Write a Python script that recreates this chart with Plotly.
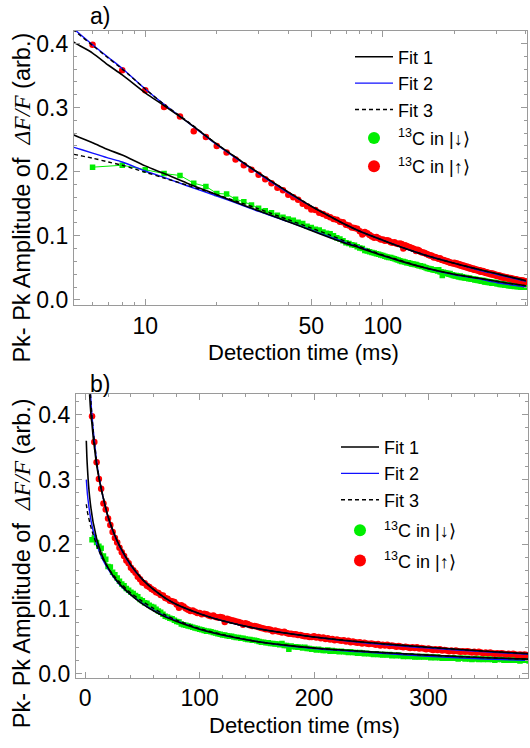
import plotly.graph_objects as go

# ---------------- data ----------------
time_ms = [
    6, 8, 10, 12, 14, 16, 18, 20, 22, 24, 26, 28, 30, 32, 34, 36, 38, 40, 42, 44,
    46, 48, 50, 52, 54, 56, 58, 60, 62, 64, 66, 68, 70, 72, 74, 76, 78, 80, 82, 84,
    86, 88, 90, 92, 94, 96, 98, 100, 102, 104, 106, 108, 110, 112, 114, 116, 118, 120, 122, 124,
    126, 128, 130, 132, 134, 136, 138, 140, 142, 144, 146, 148, 150, 152, 154, 156, 158, 160, 162, 164,
    166, 168, 170, 172, 174, 176, 178, 180, 182, 184, 186, 188, 190, 192, 194, 196, 198, 200, 202, 204,
    206, 208, 210, 212, 214, 216, 218, 220, 222, 224, 226, 228, 230, 232, 234, 236, 238, 240, 242, 244,
    246, 248, 250, 252, 254, 256, 258, 260, 262, 264, 266, 268, 270, 272, 274, 276, 278, 280, 282, 284,
    286, 288, 290, 292, 294, 296, 298, 300, 302, 304, 306, 308, 310, 312, 314, 316, 318, 320, 322, 324,
    326, 328, 330, 332, 334, 336, 338, 340, 342, 344, 346, 348, 350, 352, 354, 356, 358, 360, 362, 364,
    366, 368, 370, 372, 374, 376, 378, 380, 382, 384, 386, 388, 390, 392, 394, 396, 398, 400,
]

up_amp = [  # 13C in |up>  (red)
    0.398, 0.358, 0.327, 0.301, 0.286, 0.263, 0.254, 0.240, 0.230, 0.219, 0.210, 0.203, 0.195, 0.188, 0.182, 0.175, 0.171, 0.164, 0.160, 0.156,
    0.150, 0.146, 0.141, 0.140, 0.136, 0.134, 0.131, 0.129, 0.126, 0.125, 0.122, 0.121, 0.117, 0.116, 0.113, 0.112, 0.111, 0.107, 0.102, 0.106,
    0.104, 0.101, 0.099, 0.097, 0.098, 0.096, 0.094, 0.094, 0.092, 0.093, 0.092, 0.090, 0.089, 0.090, 0.088, 0.087, 0.088, 0.087, 0.080, 0.085,
    0.084, 0.083, 0.082, 0.081, 0.080, 0.079, 0.076, 0.078, 0.077, 0.075, 0.074, 0.074, 0.073, 0.072, 0.071, 0.070, 0.069, 0.069, 0.068, 0.066,
    0.067, 0.066, 0.065, 0.064, 0.065, 0.063, 0.062, 0.062, 0.061, 0.061, 0.060, 0.060, 0.059, 0.058, 0.058, 0.057, 0.057, 0.058, 0.056, 0.057,
    0.055, 0.056, 0.054, 0.055, 0.053, 0.054, 0.052, 0.053, 0.052, 0.051, 0.052, 0.050, 0.051, 0.049, 0.050, 0.049, 0.048, 0.049, 0.047, 0.048,
    0.047, 0.046, 0.047, 0.046, 0.045, 0.046, 0.044, 0.045, 0.044, 0.045, 0.043, 0.044, 0.043, 0.042, 0.043, 0.042, 0.041, 0.042, 0.041, 0.040,
    0.041, 0.040, 0.041, 0.039, 0.040, 0.039, 0.038, 0.039, 0.038, 0.037, 0.038, 0.037, 0.038, 0.036, 0.037, 0.036, 0.035, 0.036, 0.035, 0.036,
    0.035, 0.034, 0.035, 0.034, 0.035, 0.034, 0.033, 0.034, 0.033, 0.034, 0.033, 0.032, 0.033, 0.032, 0.033, 0.032, 0.031, 0.032, 0.031, 0.032,
    0.031, 0.030, 0.031, 0.030, 0.031, 0.030, 0.029, 0.030, 0.029, 0.030, 0.029, 0.029, 0.030, 0.028, 0.029, 0.028, 0.029, 0.028,
]

down_amp = [  # 13C in |down>  (green)
    0.207, 0.210, 0.203, 0.197, 0.194, 0.182, 0.177, 0.166, 0.165, 0.157, 0.153, 0.148, 0.143, 0.139, 0.136, 0.132, 0.129, 0.126, 0.124, 0.121,
    0.119, 0.115, 0.113, 0.110, 0.109, 0.106, 0.104, 0.103, 0.100, 0.097, 0.095, 0.092, 0.089, 0.088, 0.086, 0.085, 0.083, 0.081, 0.080, 0.077,
    0.076, 0.075, 0.074, 0.073, 0.072, 0.071, 0.070, 0.069, 0.068, 0.067, 0.066, 0.066, 0.065, 0.064, 0.063, 0.062, 0.061, 0.060, 0.060, 0.059,
    0.058, 0.058, 0.057, 0.056, 0.056, 0.055, 0.055, 0.054, 0.053, 0.053, 0.052, 0.052, 0.051, 0.050, 0.049, 0.049, 0.048, 0.048, 0.047, 0.047,
    0.046, 0.046, 0.045, 0.047, 0.044, 0.044, 0.038, 0.043, 0.042, 0.042, 0.041, 0.041, 0.040, 0.041, 0.039, 0.039, 0.038, 0.038, 0.037, 0.038,
    0.037, 0.036, 0.036, 0.037, 0.035, 0.036, 0.035, 0.035, 0.034, 0.035, 0.034, 0.034, 0.033, 0.034, 0.033, 0.033, 0.032, 0.033, 0.032, 0.031,
    0.032, 0.031, 0.031, 0.030, 0.031, 0.030, 0.030, 0.029, 0.030, 0.029, 0.030, 0.028, 0.029, 0.028, 0.029, 0.028, 0.027, 0.028, 0.027, 0.028,
    0.027, 0.026, 0.027, 0.026, 0.027, 0.026, 0.027, 0.026, 0.025, 0.026, 0.025, 0.026, 0.025, 0.024, 0.025, 0.024, 0.025, 0.024, 0.025, 0.024,
    0.023, 0.024, 0.024, 0.023, 0.024, 0.023, 0.022, 0.023, 0.024, 0.022, 0.023, 0.022, 0.023, 0.022, 0.023, 0.022, 0.021, 0.022, 0.023, 0.022,
    0.021, 0.022, 0.021, 0.022, 0.021, 0.022, 0.021, 0.020, 0.021, 0.022, 0.021, 0.020, 0.021, 0.020, 0.021, 0.020, 0.021, 0.020,
]

fit_t = [1, 1.5, 2, 3, 4, 5, 6, 7, 8, 10, 12, 15, 20, 25, 30, 40, 50, 60, 70, 80, 100, 120, 150, 200, 250, 300, 350, 400]

up_fit1 = [0.70, 0.60, 0.54, 0.47, 0.428, 0.402, 0.385, 0.366, 0.351, 0.323, 0.303, 0.278, 0.243, 0.218, 0.198, 0.168, 0.146, 0.130, 0.117, 0.107, 0.093, 0.082, 0.070, 0.057, 0.048, 0.041, 0.035, 0.030]
up_fit2 = [0.95, 0.78, 0.66, 0.53, 0.460, 0.423, 0.398, 0.378, 0.361, 0.329, 0.305, 0.278, 0.242, 0.217, 0.197, 0.167, 0.146, 0.130, 0.117, 0.107, 0.093, 0.082, 0.070, 0.057, 0.047, 0.040, 0.034, 0.029]
up_fit3 = [0.80, 0.70, 0.62, 0.52, 0.455, 0.421, 0.397, 0.377, 0.360, 0.329, 0.305, 0.279, 0.243, 0.218, 0.198, 0.168, 0.146, 0.130, 0.117, 0.107, 0.093, 0.082, 0.070, 0.057, 0.048, 0.041, 0.035, 0.030]

down_fit1 = [0.360, 0.335, 0.318, 0.291, 0.272, 0.257, 0.245, 0.234, 0.226, 0.209, 0.197, 0.182, 0.164, 0.150, 0.139, 0.122, 0.108, 0.097, 0.088, 0.081, 0.069, 0.060, 0.050, 0.040, 0.034, 0.029, 0.025, 0.022]
down_fit2 = [0.300, 0.288, 0.277, 0.262, 0.249, 0.238, 0.229, 0.221, 0.215, 0.201, 0.191, 0.178, 0.162, 0.149, 0.138, 0.122, 0.109, 0.098, 0.089, 0.082, 0.069, 0.060, 0.050, 0.039, 0.033, 0.027, 0.023, 0.020]
down_fit3 = [0.262, 0.256, 0.250, 0.242, 0.234, 0.227, 0.221, 0.215, 0.210, 0.199, 0.190, 0.179, 0.164, 0.152, 0.142, 0.125, 0.112, 0.101, 0.091, 0.083, 0.070, 0.061, 0.050, 0.040, 0.034, 0.029, 0.025, 0.022]

fit_names = ["Fit 1", "Fit 2", "Fit 3"]
label_down = "<sup>13</sup>C in |↓⟩"
label_up = "<sup>13</sup>C in |↑⟩"
x_title = "Detection time (ms)"
y_title = ("Pk- Pk Amplitude of&nbsp;&nbsp;<i><span style=\"font-family:Liberation Serif\">ΔF/F</span></i>&nbsp;(arb.)")

# ---------------- styling ----------------
W, H = 530, 748
FONT = "Liberation Sans, Arial, sans-serif"
RED = "#ff0000"
GREEN = "#00ee00"
BLUE = "#1010ff"
AXC = "#9a9a9a"

fit_styles = [
    dict(color="black", width=1.6),
    dict(color=BLUE, width=1.4),
    dict(color="black", width=1.4, dash="4px,3px"),
]

fig = go.Figure()

panels = [("x", "y", "legend", "a"), ("x2", "y2", "legend2", "b")]
for xa, ya, leg, tag in panels:
    # data
    fig.add_trace(go.Scatter(x=time_ms, y=down_amp, mode="lines+markers", xaxis=xa, yaxis=ya,
                             line=dict(color=GREEN, width=1),
                             marker=dict(symbol="square", size=5.5, color=GREEN),
                             showlegend=False, hoverinfo="skip"))
    fig.add_trace(go.Scatter(x=time_ms, y=up_amp, mode="markers", xaxis=xa, yaxis=ya,
                             marker=dict(symbol="circle", size=6.5, color=RED),
                             showlegend=False, hoverinfo="skip"))
    # fits (blue first, then black, then dashed on top)
    order = [1, 0, 2]
    ups = [up_fit1, up_fit2, up_fit3]
    downs = [down_fit1, down_fit2, down_fit3]
    for k in order:
        fig.add_trace(go.Scatter(x=fit_t, y=downs[k], mode="lines", xaxis=xa, yaxis=ya,
                                 line=dict(shape="spline", smoothing=0.8, **fit_styles[k]),
                                 showlegend=False, hoverinfo="skip"))
        fig.add_trace(go.Scatter(x=fit_t, y=ups[k], mode="lines", xaxis=xa, yaxis=ya,
                                 line=dict(shape="spline", smoothing=0.8, **fit_styles[k]),
                                 name=fit_names[k], legend=leg, legendgroup="fits_" + tag,
                                 legendrank=k + 1, showlegend=True, hoverinfo="skip"))
    # legend-only markers
    fig.add_trace(go.Scatter(x=[None], y=[None], mode="markers", xaxis=xa, yaxis=ya,
                             marker=dict(symbol="circle", size=12, color=GREEN),
                             name=label_down, legend=leg, legendgroup="g_" + tag, legendrank=4))
    fig.add_trace(go.Scatter(x=[None], y=[None], mode="markers", xaxis=xa, yaxis=ya,
                             marker=dict(symbol="circle", size=12, color=RED),
                             name=label_up, legend=leg, legendgroup="r_" + tag, legendrank=5))

tickfont = dict(family=FONT, size=23, color="black")
common = dict(showline=True, linecolor=AXC, linewidth=1.3, mirror="allticks",
              ticks="inside", tickcolor=AXC, ticklen=6, tickwidth=1,
              showgrid=False, zeroline=False, tickfont=tickfont)


def py(p):
    return 1 - p / H


legend_common = dict(xanchor="left", yanchor="top",
                     font=dict(family=FONT, size=18, color="black"),
                     itemwidth=38, bgcolor="rgba(0,0,0,0)", borderwidth=0)

fig.update_layout(
    width=W, height=H,
    margin=dict(l=0, r=0, t=0, b=0),
    paper_bgcolor="white", plot_bgcolor="white",
    font=dict(family=FONT, color="black"),
    xaxis=dict(type="log", domain=[74 / W, 527 / W], anchor="y", range=[0.70, 2.607],
               tickmode="array", tickvals=[10, 50, 100], ticktext=["10", "50", "100"],
               minor=dict(tickmode="array", tickvals=[6, 7, 8, 9, 20, 30, 40, 60, 70, 80, 90, 200, 300, 400],
                          ticklen=3, tickcolor=AXC, ticks="inside"),
               **common),
    yaxis=dict(domain=[py(309), py(31)], anchor="x", range=[-0.0085, 0.420],
               tickmode="linear", tick0=0, dtick=0.1, tickformat=".1f",
               minor=dict(dtick=0.02, tick0=0, ticklen=3, tickcolor=AXC, ticks="inside"),
               **common),
    xaxis2=dict(domain=[76 / W, 528 / W], anchor="y2", range=[-8, 387],
                tickmode="linear", tick0=0, dtick=100,
                minor=dict(dtick=20, tick0=0, ticklen=3, tickcolor=AXC, ticks="inside"),
                **common),
    yaxis2=dict(domain=[py(686), py(399)], anchor="x2", range=[-0.006, 0.432],
                tickmode="linear", tick0=0, dtick=0.1, tickformat=".1f",
                minor=dict(dtick=0.02, tick0=0, ticklen=3, tickcolor=AXC, ticks="inside"),
                **common),
    legend=dict(x=350 / W, y=py(39), tracegroupgap=2, **legend_common),
    legend2=dict(x=336 / W, y=py(434), tracegroupgap=4, **legend_common),
)

annots = [
    dict(text="a)", x=100 / W, y=py(16), font=dict(family=FONT, size=23, color="black")),
    dict(text="b)", x=100 / W, y=py(389), font=dict(family=FONT, size=23, color="black")),
    dict(text=x_title, x=303 / W, y=py(357), font=dict(family=FONT, size=22, color="black")),
    dict(text=x_title, x=304 / W, y=py(734), font=dict(family=FONT, size=22, color="black")),
    dict(text=y_title, x=22 / W, y=py(200), textangle=-90, font=dict(family=FONT, size=23.5, color="black")),
    dict(text=y_title, x=22 / W, y=py(570), textangle=-90, font=dict(family=FONT, size=23.5, color="black")),
]
for a in annots:
    fig.add_annotation(xref="paper", yref="paper", xanchor="center", yanchor="middle",
                       showarrow=False, **a)

fig.write_html("out.html")
